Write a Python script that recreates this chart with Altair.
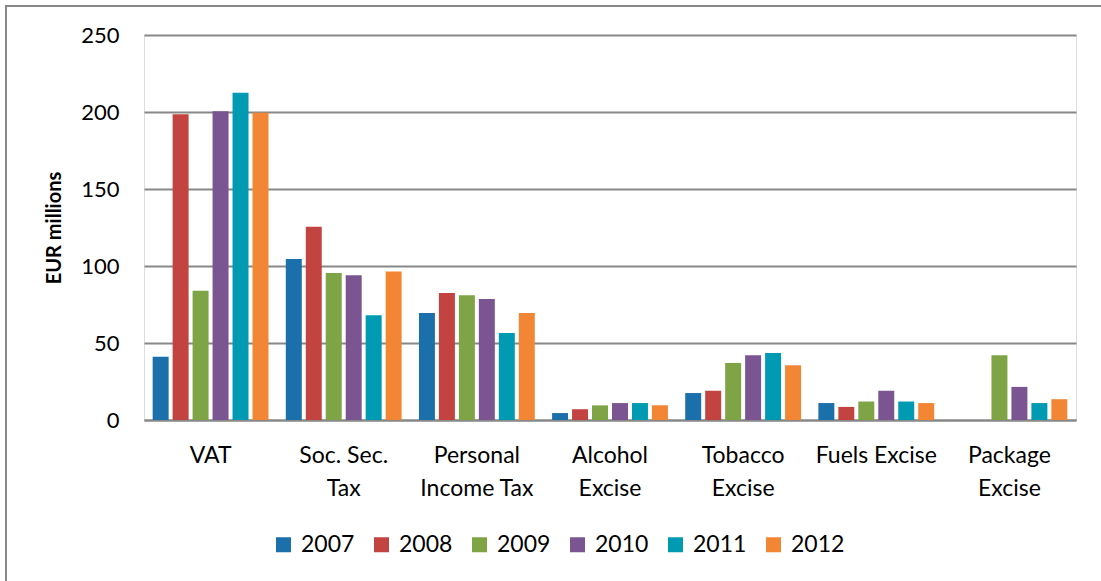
import altair as alt
import pandas as pd

categories = ["VAT", "Soc. Sec.\nTax", "Personal\nIncome Tax", "Alcohol\nExcise",
              "Tobacco\nExcise", "Fuels Excise", "Package\nExcise"]
years = ["2007", "2008", "2009", "2010", "2011", "2012"]
values = {
    "2007": [41, 104.5, 69.5, 4.5, 17.5, 11, None],
    "2008": [198.5, 125.5, 82.5, 7, 19, 8.5, None],
    "2009": [84, 95.5, 81, 9.5, 37, 12, 42],
    "2010": [200.5, 94, 78.5, 11, 42, 19, 21.5],
    "2011": [212.5, 68, 56.5, 11, 43.5, 12, 11],
    "2012": [199.5, 96.5, 69.5, 9.5, 35.5, 11, 13.5],
}
colors = ["#1b6fab", "#c24340", "#7ea446", "#7b5592", "#009ab3", "#f38634"]

rows = []
for y in years:
    for c, v in zip(categories, values[y]):
        if v is not None:
            rows.append({"category": c, "year": y, "value": v})
df = pd.DataFrame(rows)

FONT = "Lato"

bars = alt.Chart(df).mark_bar().encode(
    x=alt.X("category:N", sort=categories,
            scale=alt.Scale(paddingInner=0.1, paddingOuter=0.05),
            axis=alt.Axis(title=None, labelAngle=0, labelFontSize=23, labelFont=FONT,
                          labelColor="black", labelLineHeight=33, ticks=False,
                          domainColor="#888888", domainWidth=2, labelPadding=24,
                          labelExpr="split(datum.label, '\\n')")),
    xOffset=alt.XOffset("year:N", sort=years,
                        scale=alt.Scale(paddingInner=0.2, paddingOuter=0.1)),
    y=alt.Y("value:Q", scale=alt.Scale(domain=[0, 250]),
            axis=alt.Axis(title="EUR millions", values=[0, 50, 100, 150, 200, 250],
                          titleFont=FONT, titleFontSize=20, titleFontWeight="bold",
                          titleColor="black", titlePadding=16,
                          labelFont=FONT, labelFontSize=22, labelColor="black",
                          labelPadding=25, ticks=False, domain=False,
                          gridColor="#888888", gridWidth=2)),
    color=alt.Color("year:N", sort=years,
                    scale=alt.Scale(domain=years, range=colors),
                    legend=alt.Legend(title=None, orient="none", direction="horizontal",
                                      columns=6, legendX=128, legendY=498,
                                      symbolType="square", symbolSize=225,
                                      symbolStrokeWidth=0, labelFont=FONT,
                                      labelFontSize=23, labelColor="black",
                                      columnPadding=15, labelOffset=6)),
)

frame = alt.Chart(pd.DataFrame({"k": [0]})).mark_rect(
    fill=None, stroke="#888888", strokeWidth=2
).encode(
    x=alt.value(6 - 144), x2=alt.value(1120 - 144),
    y=alt.value(6 - 35), y2=alt.value(600 - 35),
)

chart = alt.layer(frame, bars).properties(
    width=932, height=385,
    autosize=alt.AutoSizeParams(type="none"),
    padding={"left": 144, "top": 35, "right": 25, "bottom": 161},
).configure_view(stroke=None).configure(background="white")

chart.save("out.html", embed_options={"renderer": "svg", "actions": False})
